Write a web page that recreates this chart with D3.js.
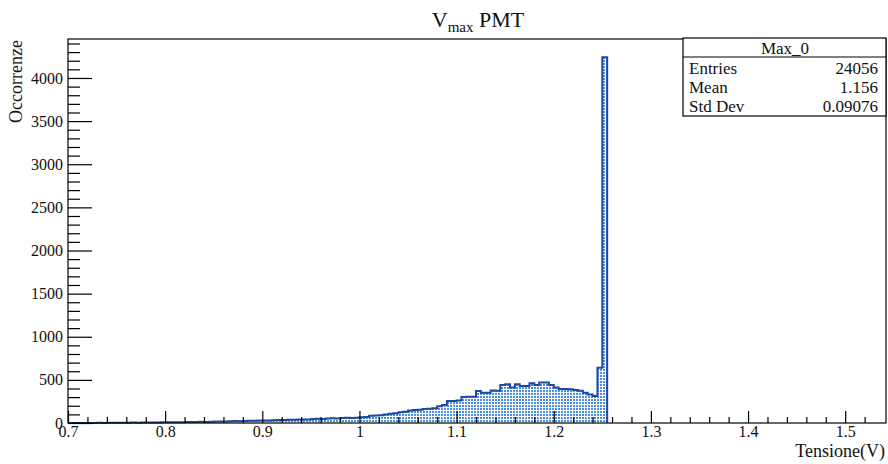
<!DOCTYPE html>
<html>
<head>
<meta charset="utf-8">
<script src="https://cdn.jsdelivr.net/npm/d3@7"></script>
<style>
  body { margin: 0; background: #fff; }
  svg { display: block; font-family: "Liberation Serif", "DejaVu Serif", serif; }
</style>
</head>
<body>
<div id="chart"></div>
<script>
// histogram bins: lower edge 0.70, width 0.005
const binStart = 0.7;
const binWidth = 0.005;
const counts = [
  0, 0, 1, 0, 1, 1, 2, 1, 2, 3,
  3, 4, 3, 5, 4, 6, 5, 7, 6, 8,
  8, 9, 10, 9, 11, 12, 11, 14, 13, 15,
  16, 18, 17, 20, 22, 21, 24, 26, 25, 28,
  30, 29, 33, 35, 34, 38, 37, 40, 42, 41,
  45, 48, 47, 52, 55, 53, 58, 60, 57, 62,
  66, 70, 85, 88, 90, 100, 108, 112, 125, 130,
  145, 150, 155, 162, 165, 172, 195, 210, 255, 255,
  260, 300, 305, 305, 370, 350, 352, 378, 375, 440,
  450, 413, 450, 430, 430, 460, 440, 470, 470, 440,
  413, 395, 395, 390, 383, 375, 350, 330, 313, 640,
  4240
];
const binEdges = d3.range(counts.length + 1).map(i => binStart + i * binWidth);

const xMajor = [0.7, 0.8, 0.9, 1.0, 1.1, 1.2, 1.3, 1.4, 1.5];
const yMajor = [0, 500, 1000, 1500, 2000, 2500, 3000, 3500, 4000];

const statsTitle = "Max_0";
const statsNames = ["Entries", "Mean", "Std Dev"];
const statsValues = ["24056", "1.156", "0.09076"];

const width = 888, height = 464;
const marginLeft = 68, marginRight = 2, marginTop = 39, marginBottom = 41;

const x = d3.scaleLinear([0.7, 1.542], [marginLeft, width - marginRight]);
const y = d3.scaleLinear([0, 4452], [height - marginBottom, marginTop]);

const svg = d3.select("#chart").append("svg")
  .attr("width", width)
  .attr("height", height);

// dotted fill
const pat = svg.append("defs").append("pattern")
  .attr("id", "dots")
  .attr("patternUnits", "userSpaceOnUse")
  .attr("width", 3).attr("height", 3);
pat.append("rect").attr("width", 3).attr("height", 3).attr("fill", "#ffffff");
pat.append("rect").attr("x", 0).attr("y", 0).attr("width", 2).attr("height", 2).attr("fill", "#4d90e0");

// histogram
const pts = counts.map((c, i) => [binEdges[i], c]);
pts.push([binEdges[counts.length], counts[counts.length - 1]]);

const area = d3.area()
  .x(d => x(d[0]))
  .y0(y(0))
  .y1(d => y(d[1]))
  .curve(d3.curveStepAfter);

svg.append("path")
  .datum(pts)
  .attr("fill", "url(#dots)")
  .attr("d", area);

const outline = [[binEdges[0], 0], ...pts, [binEdges[counts.length], 0]];
svg.append("path")
  .datum(outline)
  .attr("fill", "none")
  .attr("stroke", "#1c4aa3")
  .attr("stroke-width", 2)
  .attr("d", d3.line().x(d => x(d[0])).y(d => y(d[1])).curve(d3.curveStepAfter));

// axes
const yMinor = d3.range(0, 4452, 100).filter(v => v % 500 !== 0);
const xMinor = d3.range(0, 42).map(i => 0.7 + i * 0.02).filter(v => Math.abs(v * 10 - Math.round(v * 10)) > 1e-6);

const gy = svg.append("g").attr("transform", `translate(${marginLeft},0)`);
gy.call(d3.axisLeft(y).tickValues(yMajor).tickSize(-24).tickPadding(5).tickFormat(d3.format("d")));
gy.append("g").call(d3.axisLeft(y).tickValues(yMinor).tickSize(-12).tickFormat(""));

const gx = svg.append("g").attr("transform", `translate(0,${height - marginBottom})`);
gx.call(d3.axisBottom(x).tickValues(xMajor).tickSize(-12).tickPadding(4).tickFormat(d => String(+d.toFixed(1))));
gx.append("g").call(d3.axisBottom(x).tickValues(xMinor).tickSize(-6).tickFormat(""));

svg.selectAll(".domain").remove();
svg.selectAll(".tick line").attr("stroke", "#000").attr("stroke-width", 1.2);
svg.selectAll(".tick text")
  .attr("fill", "#111")
  .style("font-family", "Liberation Serif")
  .style("font-size", "16px");
gx.selectAll(".tick text").attr("dy", "0.71em").attr("y", 3);

// frame
svg.append("rect")
  .attr("x", marginLeft).attr("y", marginTop)
  .attr("width", width - marginRight - marginLeft)
  .attr("height", height - marginBottom - marginTop)
  .attr("fill", "none").attr("stroke", "#000").attr("stroke-width", 1.2);

// titles
const title = svg.append("text")
  .attr("x", 478).attr("y", 27)
  .attr("text-anchor", "middle")
  .style("font-size", "22px")
  .attr("fill", "#111");
title.append("tspan").text("V");
title.append("tspan").attr("dy", 5).style("font-size", "15px").text("max");
title.append("tspan").attr("dy", -5).text(" PMT");

svg.append("text")
  .attr("transform", "translate(22,40) rotate(-90)")
  .attr("text-anchor", "end")
  .style("font-size", "18px")
  .attr("fill", "#111")
  .text("Occorrenze");

svg.append("text")
  .attr("x", 885).attr("y", 457)
  .attr("text-anchor", "end")
  .style("font-size", "18px")
  .attr("fill", "#111")
  .text("Tensione(V)");

// stats box
const box = svg.append("g");
box.append("rect")
  .attr("x", 683).attr("y", 38).attr("width", 203).attr("height", 78)
  .attr("fill", "#fff").attr("stroke", "#000").attr("stroke-width", 1.2);
box.append("line")
  .attr("x1", 683).attr("x2", 886).attr("y1", 57).attr("y2", 57)
  .attr("stroke", "#000").attr("stroke-width", 1.2);
box.append("text")
  .attr("x", 785).attr("y", 54)
  .attr("text-anchor", "middle")
  .style("font-size", "17px").attr("fill", "#111")
  .text(statsTitle);
statsNames.forEach((n, i) => {
  box.append("text")
    .attr("x", 689).attr("y", 74 + i * 19.2)
    .style("font-size", "17px").attr("fill", "#111")
    .text(n);
  box.append("text")
    .attr("x", 878).attr("y", 74 + i * 19.2)
    .attr("text-anchor", "end")
    .style("font-size", "17px").attr("fill", "#111")
    .text(statsValues[i]);
});
</script>
</body>
</html>
